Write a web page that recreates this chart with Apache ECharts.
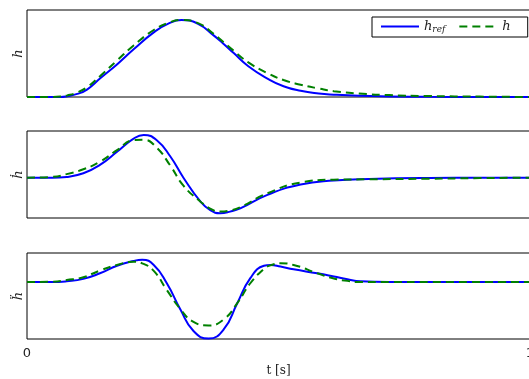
<!DOCTYPE html>
<html>
<head>
<meta charset="utf-8">
<script src="https://cdn.jsdelivr.net/npm/echarts@6/dist/echarts.min.js"></script>
<style>
  html, body { margin: 0; padding: 0; background: #fff; }
  #chart { width: 529px; height: 379px; }
</style>
</head>
<body>
<div id="chart"></div>
<script>
// time samples [s]
const tH = [0, 0.05, 0.066, 0.08, 0.1, 0.12, 0.145, 0.18, 0.212, 0.252, 0.28, 0.307, 0.34, 0.371, 0.391, 0.411, 0.44, 0.478, 0.51, 0.544, 0.58, 0.61, 0.66, 0.72, 0.8, 0.9, 1.0];
const hRef = [0, 0, 0, 0.01, 0.04, 0.1, 0.24, 0.43, 0.62, 0.84, 0.95, 1.0, 0.95, 0.8, 0.69, 0.57, 0.4, 0.24, 0.14, 0.08, 0.045, 0.03, 0.015, 0.007, 0.002, 0, 0];
const hMeas = [0, 0, 0.005, 0.02, 0.06, 0.13, 0.27, 0.48, 0.67, 0.87, 0.96, 1.0, 0.96, 0.82, 0.71, 0.6, 0.45, 0.31, 0.22, 0.16, 0.11, 0.075, 0.045, 0.025, 0.012, 0.005, 0];

const tD = [0, 0.05, 0.079, 0.112, 0.145, 0.179, 0.212, 0.232, 0.258, 0.285, 0.311, 0.345, 0.365, 0.384, 0.404, 0.424, 0.478, 0.544, 0.61, 0.68, 0.8, 0.9, 1.0];
const dhRef = [0, 0, 0.02, 0.11, 0.32, 0.65, 0.98, 1.07, 0.94, 0.53, 0, -0.6, -0.82, -0.89, -0.85, -0.77, -0.43, -0.17, -0.07, -0.03, -0.005, 0, 0];
const dhMeas = [0, 0.02, 0.09, 0.21, 0.4, 0.69, 0.94, 0.95, 0.75, 0.3, -0.2, -0.6, -0.78, -0.85, -0.82, -0.74, -0.39, -0.12, -0.05, -0.04, -0.025, -0.01, 0];

const tDD = [0, 0.05, 0.079, 0.112, 0.145, 0.179, 0.212, 0.229, 0.252, 0.278, 0.305, 0.331, 0.361, 0.391, 0.418, 0.444, 0.471, 0.484, 0.504, 0.53, 0.577, 0.61, 0.637, 0.663, 0.72, 0.8, 1.0];
const ddhRef = [0, 0, 0.02, 0.08, 0.22, 0.41, 0.53, 0.56, 0.43, -0.03, -0.69, -1.23, -1.42, -1.19, -0.53, 0.1, 0.41, 0.43, 0.39, 0.32, 0.22, 0.14, 0.07, 0.02, 0, 0, 0];
const ddhMeas = [0, 0.01, 0.05, 0.12, 0.29, 0.43, 0.51, 0.47, 0.28, -0.2, -0.68, -1.0, -1.09, -0.94, -0.53, -0.03, 0.33, 0.42, 0.47, 0.43, 0.22, 0.09, 0.03, 0, 0, 0, 0];

const xTicks = ['0', '1'];

const pair = (ts, vs) => ts.map((t, i) => [t, vs[i]]);

const chart = echarts.init(document.getElementById('chart'));

const grids = [
  { left: 27, top: 10, width: 503, height: 87 },
  { left: 27, top: 131, width: 503, height: 87 },
  { left: 27, top: 253, width: 503, height: 86 }
].map(g => Object.assign(g, {
  show: true, borderColor: '#000', borderWidth: 1, backgroundColor: 'transparent',
  containLabel: false, outerBoundsMode: 'none'
}));

const yNames = ['h', 'ḣ', 'ḧ'];
const yRanges = [[0, 1.13], [-1.01, 1.17], [-1.43, 0.73]];

const xAxes = [0, 1, 2].map(i => ({
  type: 'value', gridIndex: i, min: 0, max: 1, interval: 1,
  axisLine: { show: false }, axisTick: { show: false }, splitLine: { show: false },
  axisLabel: i === 2 ? {
    show: true, margin: 8, color: '#222', fontSize: 13, fontFamily: 'DejaVu Sans',
    formatter: v => xTicks[Math.round(v)]
  } : { show: false },
  name: i === 2 ? 't [s]' : '',
  nameLocation: 'middle', nameGap: 26,
  nameTextStyle: { fontFamily: 'DejaVu Serif', fontSize: 12, color: '#222' }
}));

const yAxes = [0, 1, 2].map(i => ({
  type: 'value', gridIndex: i, min: yRanges[i][0], max: yRanges[i][1],
  axisLine: { show: false }, axisTick: { show: false }, splitLine: { show: false },
  axisLabel: { show: false },
  name: yNames[i], nameLocation: 'middle', nameRotate: 90, nameGap: 2,
  nameTextStyle: { fontFamily: 'DejaVu Serif', fontStyle: 'italic', fontSize: 13, color: '#222' }
}));

const blue = '#0000ff';
const green = '#008000';
const line = (name, data, i, color, type) => ({
  name, type: 'line', xAxisIndex: i, yAxisIndex: i, data,
  smooth: 0.5, symbol: 'none', showSymbol: false,
  z: type === 'dashed' ? 3 : 2,
  lineStyle: { color, width: 2, type: type === 'dashed' ? [8, 5] : 'solid' },
  itemStyle: { color }
});

chart.setOption({
  animation: false,
  grid: grids,
  xAxis: xAxes,
  yAxis: yAxes,
  legend: {
    left: 372, top: 17, orient: 'horizontal',
    data: ['h_ref', 'h'],
    itemWidth: 38, itemHeight: 12, itemGap: 13,
    padding: [3, 17, 3, 8],
    borderColor: '#000', borderWidth: 1, backgroundColor: '#fff',
    itemStyle: { opacity: 0 },
    formatter: n => n === 'h_ref' ? '{i|h}{s|ref}' : '{i|h}',
    textStyle: {
      color: '#222',
      rich: {
        i: { fontFamily: 'DejaVu Serif', fontStyle: 'italic', fontSize: 13 },
        s: { fontFamily: 'DejaVu Serif', fontStyle: 'italic', fontSize: 9, padding: [6, 0, 0, 0] }
      }
    }
  },
  series: [
    line('h_ref', pair(tH, hRef), 0, blue, 'solid'),
    line('h', pair(tH, hMeas), 0, green, 'dashed'),
    line('h_ref', pair(tD, dhRef), 1, blue, 'solid'),
    line('h', pair(tD, dhMeas), 1, green, 'dashed'),
    line('h_ref', pair(tDD, ddhRef), 2, blue, 'solid'),
    line('h', pair(tDD, ddhMeas), 2, green, 'dashed')
  ]
});
</script>
</body>
</html>
